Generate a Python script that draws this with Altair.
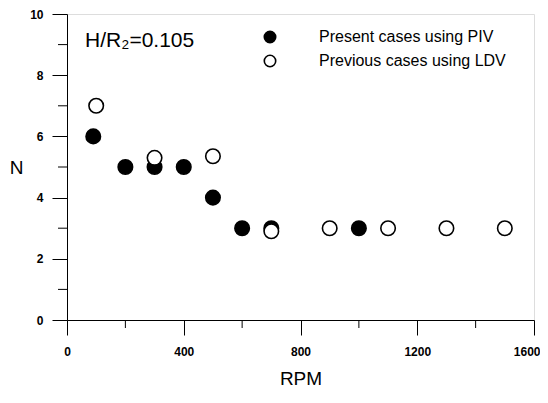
import altair as alt
import pandas as pd

piv_rpm = [90, 200, 300, 400, 500, 600, 700, 1000]
piv_n = [6, 5, 5, 5, 4, 3, 3, 3]
ldv_rpm = [100, 300, 500, 700, 900, 1100, 1300, 1500]
ldv_n = [7, 5.3, 5.35, 2.9, 3, 3, 3, 3]
series = ["Present cases using PIV", "Previous cases using LDV"]

x_major = [0, 400, 800, 1200, 1600]
x_minor = [200, 600, 1000, 1400]
y_major = [0, 2, 4, 6, 8, 10]
y_minor = [1, 3, 5, 7, 9]

df = pd.DataFrame({
    "RPM": piv_rpm + ldv_rpm,
    "N": piv_n + ldv_n,
    "case": [series[0]] * len(piv_rpm) + [series[1]] * len(ldv_rpm),
})
note = pd.DataFrame({"RPM": [62], "N": [9.12], "t": ["H/R₂=0.105"]})
mx = pd.DataFrame({"RPM": x_minor})
my = pd.DataFrame({"N": y_minor})

FONT = "Liberation Sans"
W, H = 467, 306

xs = alt.Scale(domain=[0, 1600], nice=False)
ys = alt.Scale(domain=[0, 10], nice=False)

x = alt.X("RPM:Q", scale=xs,
          axis=alt.Axis(values=x_major, tickSize=15, labelPadding=11, format="d",
                        labelFlush=False,
                        labelAlign={"condition": {"test": "datum.value === 1600", "value": "right"},
                                    "value": "center"},
                        labelOffset={"condition": {"test": "datum.value === 1600", "value": 6},
                                     "value": 0},
                        labelFontSize=12, labelFont=FONT, labelFontWeight="bold",
                        title="RPM", titleFontSize=19, titleFont=FONT, titleFontWeight="normal",
                        titleY=58, titleBaseline="middle",
                        grid=False, domainColor="black", tickColor="black", labelColor="black",
                        titleColor="black"))
y = alt.Y("N:Q", scale=ys,
          axis=alt.Axis(values=y_major, tickSize=15, labelPadding=9, labelFlush=False,
                        labelBaseline="middle",
                        labelFontSize=12, labelFont=FONT, labelFontWeight="bold",
                        title="N", titleFontSize=19, titleFont=FONT, titleFontWeight="normal",
                        titleAngle=0, titleX=-51, titleY=H / 2, titleAlign="center",
                        titleBaseline="middle",
                        grid=False, domainColor="black", tickColor="black", labelColor="black",
                        titleColor="black"))

pts = alt.Chart(df).mark_point(shape="circle", size=210, strokeWidth=1.6, opacity=1,
                               stroke="black").encode(
    x=x, y=y,
    fill=alt.Fill("case:N", scale=alt.Scale(domain=series, range=["black", "white"]),
                  legend=alt.Legend(title=None, orient="none", legendX=195, legendY=15,
                                    padding=0, labelFont=FONT, labelFontSize=16,
                                    labelColor="black", labelLimit=400,
                                    symbolStrokeColor="black", symbolStrokeWidth=1.6,
                                    symbolSize=130, symbolType="circle", labelOffset=41,
                                    rowPadding=6)),
)

txt = alt.Chart(note).mark_text(align="left", baseline="middle", font=FONT, fontSize=21,
                                color="black").encode(
    x=alt.X("RPM:Q", scale=xs), y=alt.Y("N:Q", scale=ys), text="t:N")

minor_x = alt.Chart(mx).mark_rule(color="black", strokeWidth=1).encode(
    x=alt.X("RPM:Q", scale=xs), y=alt.value(H), y2=alt.value(H + 8))
minor_y = alt.Chart(my).mark_rule(color="black", strokeWidth=1).encode(
    y=alt.Y("N:Q", scale=ys), x=alt.value(-9), x2=alt.value(0))

chart = alt.layer(pts, txt, minor_x, minor_y).properties(
    width=W, height=H,
    autosize=alt.AutoSizeParams(type="none"),
    padding={"left": 59, "top": 6, "right": 6, "bottom": 68},
).configure_view(stroke="black", strokeWidth=1).configure(background="white")

chart.save("out.html", embed_options={"renderer": "svg", "actions": False})
